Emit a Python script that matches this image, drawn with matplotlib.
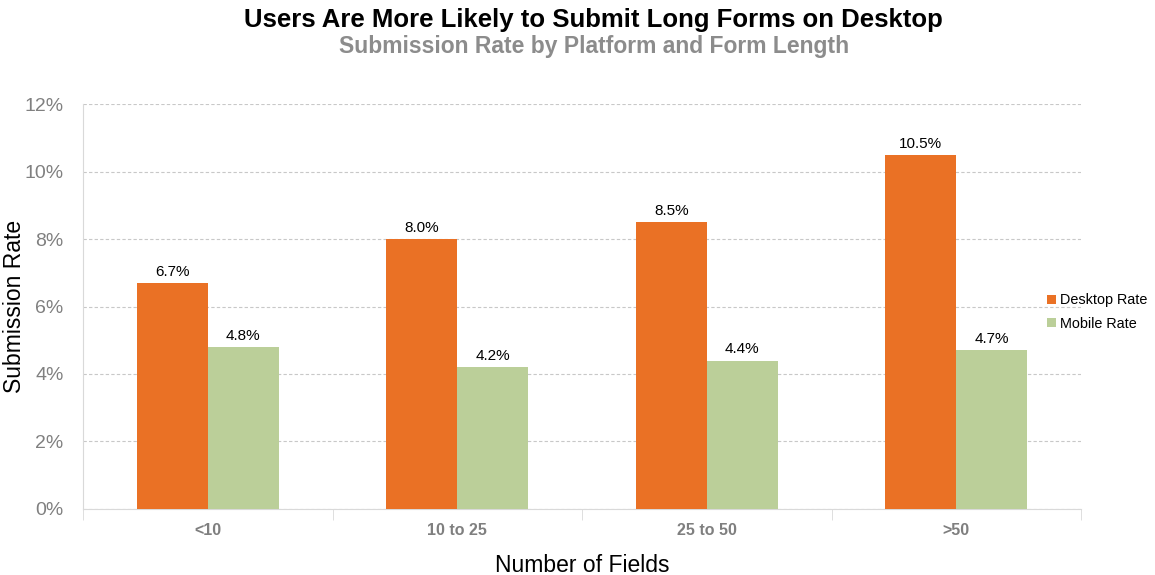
import numpy as np
import matplotlib.pyplot as plt
from matplotlib.ticker import FuncFormatter

categories = ["<10", "10 to 25", "25 to 50", ">50"]
desktop_rate = [6.7, 8.0, 8.5, 10.5]
mobile_rate = [4.8, 4.2, 4.4, 4.7]

plt.rcParams['font.family'] = ['Liberation Sans', 'DejaVu Sans']

fig = plt.figure(figsize=(11.55, 5.75), dpi=100)
ax = fig.add_axes([0.0719, 0.1148, 0.8641, 0.7043])

x = np.arange(len(categories))
w = 0.285
orange = "#EA7125"
green = "#BBCF99"

b1 = ax.bar(x - w / 2, desktop_rate, w, color=orange, label="Desktop Rate", zorder=3)
b2 = ax.bar(x + w / 2, mobile_rate, w, color=green, label="Mobile Rate", zorder=3)

for bars, vals in ((b1, desktop_rate), (b2, mobile_rate)):
    for b, v in zip(bars, vals):
        ax.text(b.get_x() + b.get_width() / 2, v + 0.12, f"{v:.1f}%",
                ha="center", va="bottom", fontsize=11, color="black")

ax.set_xlim(-0.5, len(categories) - 0.5)
ax.set_ylim(0, 12)
ax.set_yticks(np.arange(0, 13, 2))
ax.yaxis.set_major_formatter(FuncFormatter(lambda v, p: f"{v:.0f}%"))
ax.tick_params(axis="y", length=0, labelsize=14, labelcolor="#808080", pad=14)

ax.set_xticks(x)
ax.set_xticklabels(categories, fontweight="bold", fontsize=11.5, color="#7f7f7f")
ax.set_xticks(np.arange(-0.5, len(categories)), minor=True)
ax.tick_params(axis="x", which="major", length=0, pad=10)
ax.tick_params(axis="x", which="minor", length=8, color="#d9d9d9")

ax.grid(axis="y", linestyle=(0, (3, 2)), color="#c8c8c8", linewidth=0.8, zorder=0)
for s in ("top", "right"):
    ax.spines[s].set_visible(False)
for s in ("left", "bottom"):
    ax.spines[s].set_color("#d9d9d9")

ax.set_ylabel("Submission Rate", fontsize=16.5, va="center")
ax.yaxis.set_label_coords(-0.069, 0.5)
ax.set_xlabel("Number of Fields", fontsize=16.5, va="center")
ax.xaxis.set_label_coords(0.5, -0.14)

fig.text(0.514, 0.966, "Users Are More Likely to Submit Long Forms on Desktop",
         ha="center", va="center", fontsize=18.5, fontweight="bold")
fig.text(0.514, 0.92, "Submission Rate by Platform and Form Length",
         ha="center", va="center", fontsize=16.5, fontweight="bold", color="#8c8c8c")

ax.legend(loc="center left", bbox_to_anchor=(0.953, 0.486), frameon=False,
          fontsize=10.4, handlelength=0.6, handleheight=0.6, handletextpad=0.3,
          labelspacing=0.65)

fig.savefig("out.png", dpi=100)
